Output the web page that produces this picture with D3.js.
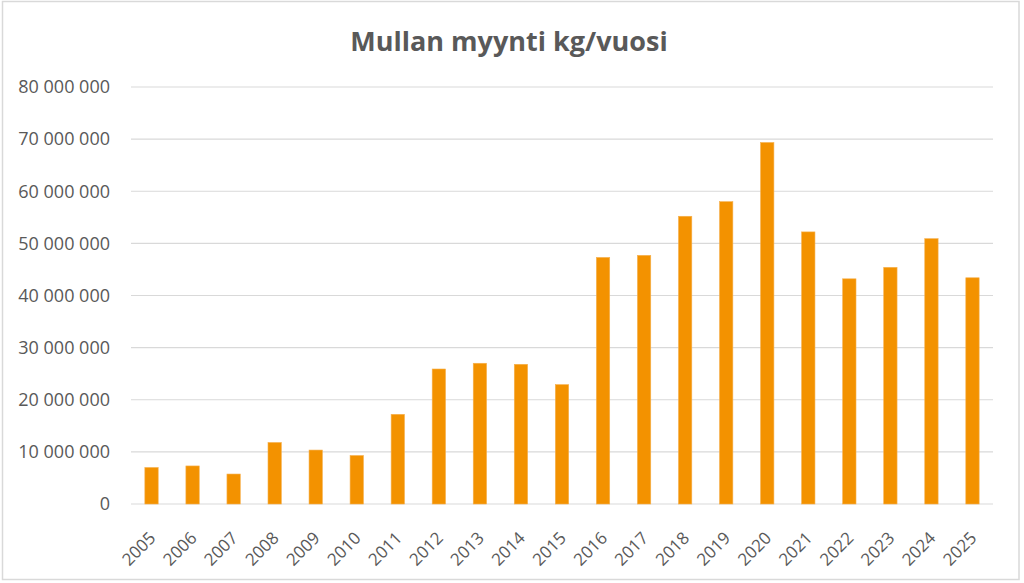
<!DOCTYPE html>
<html>
<head>
<meta charset="utf-8">
<script src="https://cdn.jsdelivr.net/npm/d3@7"></script>
<style>
  body { margin: 0; background: #fff; }
  svg { display: block; font-family: "Open Sans", "Liberation Sans", sans-serif; }
  .tick text { fill: #595959; font-family: "Open Sans", sans-serif; }
</style>
</head>
<body>
<div id="chart"></div>
<script>
// data
const years = ["2005", "2006", "2007", "2008", "2009", "2010", "2011", "2012", "2013", "2014", "2015",
               "2016", "2017", "2018", "2019", "2020", "2021", "2022", "2023", "2024", "2025"];
const sales = [7000000, 7300000, 5750000, 11800000, 10350000, 9300000, 17200000, 25900000, 27000000, 26800000, 22900000,
               47300000, 47700000, 55200000, 58000000, 69350000, 52200000, 43200000, 45400000, 50900000, 43400000];
const yTicks = [0, 10000000, 20000000, 30000000, 40000000, 50000000, 60000000, 70000000, 80000000];

const W = 1024, H = 583;
const margin = {top: 87, right: 31, bottom: 79, left: 131};
const width = W - margin.left - margin.right;
const height = H - margin.top - margin.bottom;

const svg = d3.select("#chart").append("svg")
    .attr("width", W)
    .attr("height", H);

// chart frame
svg.append("rect")
    .attr("x", 2.5).attr("y", 1.5)
    .attr("width", 1016.5).attr("height", 578)
    .attr("fill", "none")
    .attr("stroke", "#d9d9d9")
    .attr("stroke-width", 1.5);

svg.append("text")
    .attr("x", 509)
    .attr("y", 51)
    .attr("text-anchor", "middle")
    .attr("font-size", 27)
    .attr("font-weight", "bold")
    .attr("fill", "#595959")
    .text("Mullan myynti kg/vuosi");

const g = svg.append("g")
    .attr("transform", `translate(${margin.left}, ${margin.top})`);

const x = d3.scaleBand()
    .domain(years)
    .range([0, width])
    .paddingInner(0.675)
    .paddingOuter(0.3375);

const y = d3.scaleLinear()
    .domain([0, 80000000])
    .range([height, 0]);

// space as thousands separator
const fmt = d => d3.format(",")(d).replace(/,/g, " ");

// gridlines
g.selectAll(".grid")
    .data(yTicks)
    .enter().append("line")
    .attr("class", "grid")
    .attr("x1", 0).attr("x2", width)
    .attr("y1", d => y(d)).attr("y2", d => y(d))
    .attr("stroke", "#d9d9d9")
    .attr("stroke-width", 1.2);

let yAxis = d3.axisLeft(y).tickValues(yTicks).tickFormat(fmt).tickSize(0).tickPadding(21);
g.append("g")
    .attr("class", "y-axis")
    .call(yAxis)
    .call(s => s.select(".domain").remove())
    .selectAll("text")
    .attr("font-size", 18);

g.selectAll(".bar")
    .data(sales)
    .enter().append("rect")
    .attr("class", "bar")
    .attr("x", (d, i) => x(years[i]))
    .attr("y", d => y(d))
    .attr("width", x.bandwidth())
    .attr("height", d => height - y(d))
    .attr("fill", "#f39200")
    .attr("stroke", "#f6b04d")
    .attr("stroke-width", 0.6);

let xAxis = d3.axisBottom(x).tickSize(0).tickPadding(0);
g.append("g")
    .attr("class", "x-axis")
    .attr("transform", `translate(0, ${height})`)
    .call(xAxis)
    .call(s => s.select(".domain").remove())
    .selectAll("text")
    .attr("font-size", 17)
    .attr("text-anchor", "end")
    .attr("dy", "0.35em")
    .attr("transform", "translate(1, 31) rotate(-45)");
</script>
</body>
</html>
